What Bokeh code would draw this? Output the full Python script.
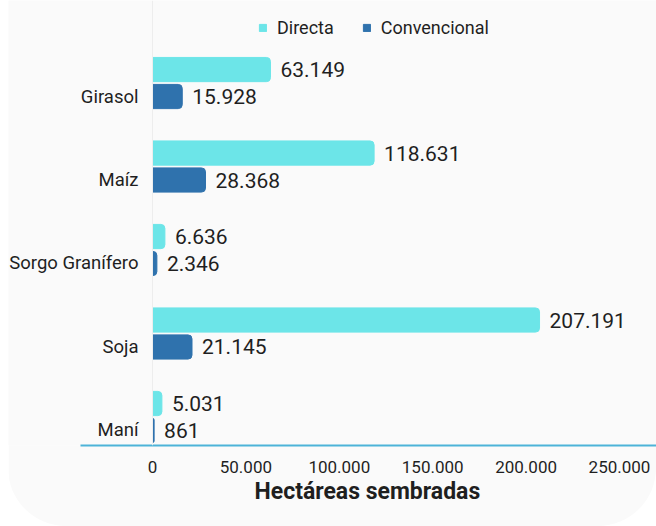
from bokeh.plotting import figure
from bokeh.models import (ColumnDataSource, FixedTicker, Legend, LegendItem, Span, LabelSet,
                          CustomJSTickFormatter, Title)
from bokeh.transform import dodge
from bokeh.core.properties import value
from bokeh.embed import file_html
from bokeh.resources import INLINE

categories = ["Girasol", "Maíz", "Sorgo Granífero", "Soja", "Maní"]
directa = [63149, 118631, 6636, 207191, 5031]
convencional = [15928, 28368, 2346, 21145, 861]
x_ticks = [0, 50000, 100000, 150000, 200000, 250000]
series_names = ["Directa", "Convencional"]
axis_title = "Hectáreas sembradas"

def fmt(v):
    return f"{v:,}".replace(",", ".")

idx = list(range(len(categories)))
src = ColumnDataSource(dict(
    idx=idx, cat=categories, directa=directa, convencional=convencional,
    zero=[0] * len(idx),
    dlab=[fmt(v) for v in directa], clab=[fmt(v) for v in convencional],
))

FONT = "Roboto"
TXT = "#1f1f1f"
C_DIR = "#6ce5e8"
C_CONV = "#2f72ad"
BG = "#fafafa"

p = figure(width=648, height=526, output_backend="svg", toolbar_location=None,
           x_range=(-77090, 269807), y_range=(4.18, -1.15),
           min_border_left=0, min_border_right=0, min_border_top=0, min_border_bottom=81)
p.background_fill_color = BG
p.border_fill_color = BG
p.outline_line_color = None
p.grid.grid_line_color = None
p.styles = {"margin-left": "8px", "border-radius": "0 0 58px 58px", "overflow": "hidden"}

p.add_layout(Span(location=0, dimension="height", line_color="#ededed", line_width=1))

bh = 0.29
rd = p.hbar(y=dodge("idx", -0.323, range=p.y_range), right="directa", left=0, height=bh,
            source=src, fill_color=C_DIR, line_color=C_DIR, border_radius=(0, 4, 4, 0))
rc = p.hbar(y="idx", right="convencional", left=0, height=bh,
            source=src, fill_color=C_CONV, line_color=C_CONV, border_radius=(0, 4, 4, 0))

p.text(x="directa", y=dodge("idx", -0.323, range=p.y_range), text="dlab", source=src,
       x_offset=10, text_baseline="middle", text_font=value(FONT), text_font_size="21px",
       text_color=TXT)
p.text(x="convencional", y="idx", text="clab", source=src,
       x_offset=10, text_baseline="middle", text_font=value(FONT), text_font_size="21px",
       text_color=TXT)

# category labels
p.add_layout(LabelSet(x="zero", y="idx", text="cat", source=src, x_offset=-14,
                      text_align="right", text_baseline="middle", text_font=value(FONT),
                      text_font_size="18.5px", text_color=TXT))

# x axis
xa = p.xaxis[0]
xa.ticker = FixedTicker(ticks=x_ticks)
xa.bounds = (-38540, 269807)
xa.formatter = CustomJSTickFormatter(code="return tick.toLocaleString('de-DE');")
xa.axis_line_color = "#4db3d8"
xa.axis_line_width = 2
xa.major_tick_line_color = None
xa.minor_tick_line_color = None
xa.major_label_text_font = FONT
xa.major_label_text_font_size = "17px"
xa.major_label_text_color = TXT
xa.major_label_standoff = 9

p.yaxis.visible = False

p.add_layout(Title(text=axis_title, align="left", offset=246, text_font=FONT,
                   text_font_size="23px", text_font_style="bold", text_color=TXT,
                   standoff=0), "below")

legend = Legend(items=[LegendItem(label=series_names[0], renderers=[rd]),
                       LegendItem(label=series_names[1], renderers=[rc])],
                orientation="horizontal", location=(250, 407),
                label_text_font=FONT, label_text_font_size="18px", label_text_color=TXT,
                glyph_width=9, glyph_height=9, spacing=28, label_standoff=10,
                background_fill_alpha=0, border_line_color=None, margin=0, padding=0)
p.add_layout(legend)

open("out.html", "w").write(file_html(p, INLINE))
